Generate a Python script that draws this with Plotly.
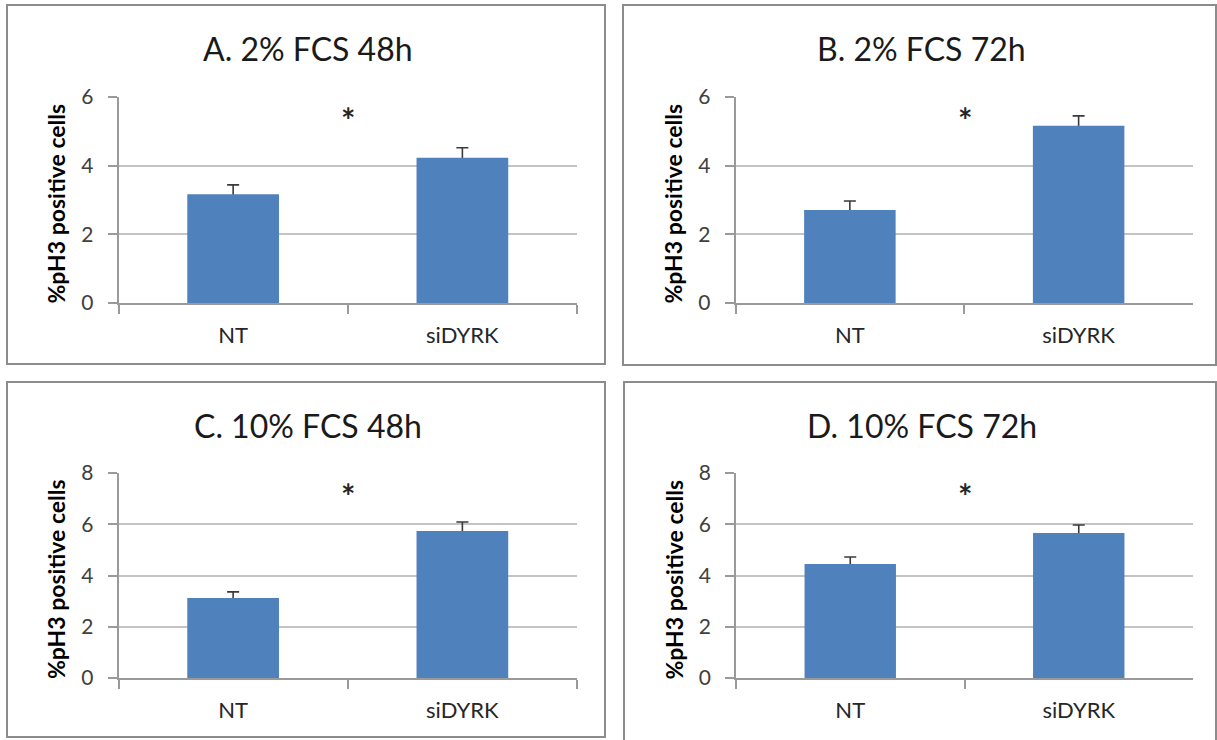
import plotly.graph_objects as go

W, H = 1217, 740

categories = ["NT", "siDYRK"]
panel_titles = ["A. 2% FCS 48h", "B. 2% FCS 72h", "C. 10% FCS 48h", "D. 10% FCS 72h"]
y_title = "%pH3 positive cells"

a_vals = [3.17, 4.23]
a_err = [0.27, 0.29]
b_vals = [2.71, 5.16]
b_err = [0.26, 0.29]
c_vals = [3.12, 5.74]
c_err = [0.24, 0.35]
d_vals = [4.45, 5.66]
d_err = [0.27, 0.31]

y_max = [6, 6, 8, 8]

FONT = "Lato"
BAR = "#4f81bd"

# pixel layout of each panel: plot area (x0, x1, ytop, ybottom), frame (x0, y0, x1, y1)
plots = [
    (118.5, 577, 97, 303),
    (735.5, 1193, 97, 303),
    (118.5, 577, 473, 678),
    (736, 1193, 473, 678),
]
frames = [
    (7, 5, 605, 364),
    (623, 5, 1216, 365),
    (7, 382, 605, 737),
    (624, 382, 1216, 741),
]

def px(x):
    return x / W

def py(y):
    return 1 - y / H

fig = go.Figure()
series = [(a_vals, a_err), (b_vals, b_err), (c_vals, c_err), (d_vals, d_err)]
annotations = []
shapes = []

for i, ((vals, errs), (x0, x1, yt, yb), fr, title, ym) in enumerate(
        zip(series, plots, frames, panel_titles, y_max)):
    n = "" if i == 0 else str(i + 1)
    # error bars (one-sided, upper) carried by an invisible bar trace underneath
    fig.add_trace(go.Bar(
        x=categories, y=vals, width=0.4,
        marker=dict(color="rgba(0,0,0,0)", line=dict(width=0)),
        error_y=dict(type="data", array=errs, arrayminus=[0.06] * len(errs),
                     symmetric=False, color="#3a3a3a", thickness=1.6, width=6),
        xaxis="x" + n, yaxis="y" + n, showlegend=False, hoverinfo="skip",
    ))
    # visible bars on top, hiding the lower end of the error bars
    fig.add_trace(go.Bar(
        x=categories, y=vals, width=0.4,
        marker=dict(color=BAR, line=dict(width=0)),
        xaxis="x" + n, yaxis="y" + n, showlegend=False,
    ))
    fig.update_layout(**{
        "xaxis" + n: dict(
            domain=[px(x0), px(x1)], anchor="y" + n, type="category",
            range=[-0.5, 1.5], showline=True, linecolor="#9a9a9a", linewidth=1.5,
            ticks="outside", tickson="boundaries", ticklen=9, tickcolor="#9a9a9a",
            tickwidth=1.5, showgrid=False, ticklabelstandoff=12, automargin=False,
            tickfont=dict(family=FONT, size=22, color="#262626"),
            fixedrange=True,
        ),
        "yaxis" + n: dict(
            domain=[py(yb), py(yt)], anchor="x" + n,
            range=[0, ym], dtick=2, showline=True, linecolor="#9a9a9a",
            linewidth=1.5, ticks="outside", ticklen=9, tickcolor="#9a9a9a",
            tickwidth=1.5, showgrid=True, gridcolor="#c4c4c4", gridwidth=1.6,
            zeroline=False, ticklabelstandoff=10, automargin=False,
            tickfont=dict(family=FONT, size=21, color="#404040"),
            fixedrange=True,
        ),
    })
    # panel frame
    shapes.append(dict(type="rect", xref="paper", yref="paper",
                       x0=px(fr[0]), x1=px(fr[2]), y0=py(fr[3]), y1=py(fr[1]),
                       line=dict(color="#8c8c8c", width=2), fillcolor="rgba(0,0,0,0)",
                       layer="below"))
    # panel title
    annotations.append(dict(text=title, xref="paper", yref="paper",
                            x=px((fr[0] + fr[2]) / 2 + 2),
                            y=py(yt - 48), xanchor="center", yanchor="middle",
                            showarrow=False,
                            font=dict(family=FONT, size=32, color="#1a1a1a")))
    # y-axis title
    annotations.append(dict(text="<b>" + y_title + "</b>", xref="paper", yref="paper",
                            x=px(x0 - 63), y=py((yt + yb) / 2 + 4), textangle=-90,
                            xanchor="center", yanchor="middle", showarrow=False,
                            font=dict(family=FONT, size=23, color="#000000")))
    # significance asterisk
    annotations.append(dict(text="<b>*</b>", xref="paper", yref="paper",
                            x=px((x0 + x1) / 2 + 0.5), y=py(yt + 22),
                            xanchor="center", yanchor="middle", showarrow=False,
                            font=dict(family=FONT, size=34, color="#262626")))

fig.update_layout(
    width=W, height=H, margin=dict(l=0, r=0, t=0, b=0, pad=0, autoexpand=False),
    paper_bgcolor="white", plot_bgcolor="white",
    annotations=annotations, shapes=shapes, barmode="overlay",
)

fig.write_html("out.html", config={"displayModeBar": False},
               post_script="document.body.style.margin='0px';"
                           "document.body.style.overflow='hidden';")
